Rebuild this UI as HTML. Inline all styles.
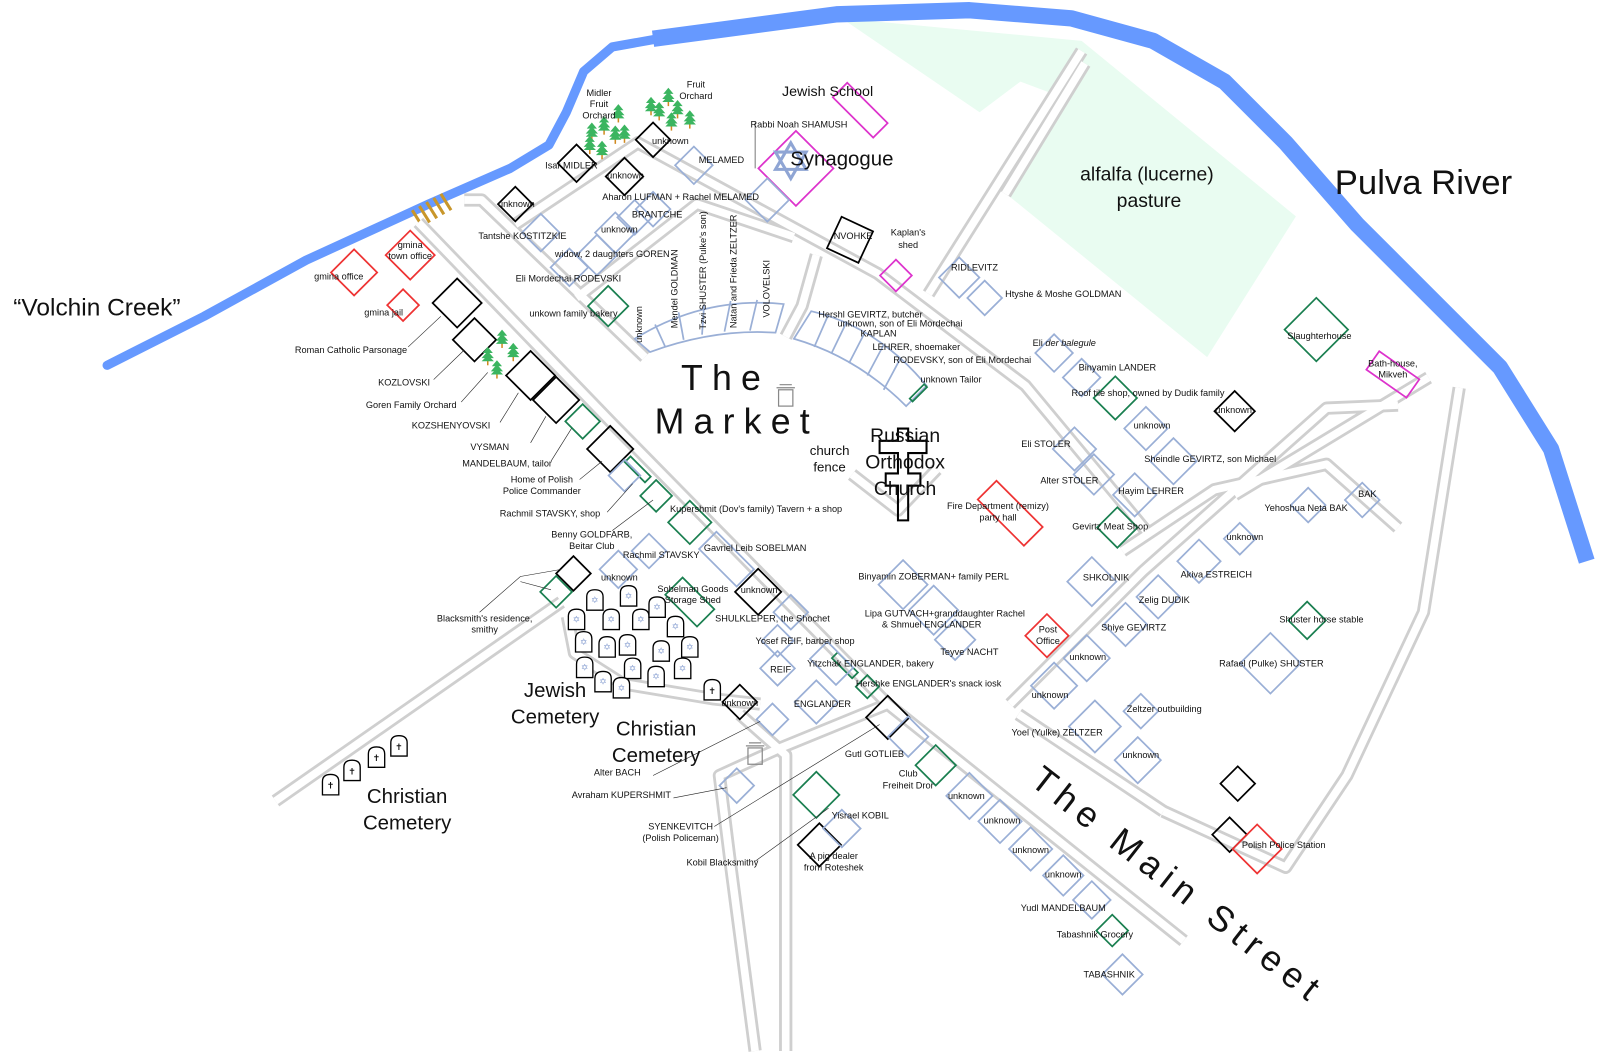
<!DOCTYPE html>
<html><head><meta charset="utf-8"><style>
html,body{margin:0;padding:0;background:#fff}
svg{display:block}
text{font-family:"Liberation Sans",sans-serif;fill:#111}
.s{font-size:9px}
.h rect{fill:none;stroke-width:1.7}
.b{stroke:#9aafd6}.k{stroke:#000}.g{stroke:#1a7f50}.r{stroke:#e33}.m{stroke:#d3c}
.rd{fill:none;stroke-linejoin:round;stroke-linecap:butt}
.rg{stroke:#cfcfcf;stroke-width:13}
.rw{stroke:#fff;stroke-width:7.5}
.ld{stroke:#222;stroke-width:0.6;fill:none}
</style></head><body>
<svg width="1600" height="1052" viewBox="0 0 1568 1031" preserveAspectRatio="none" xmlns="http://www.w3.org/2000/svg">
<defs>
<path id="ts" d="M-8,10 v-13 q0,-7 8,-7 q8,0 8,7 v13 z"/>
<g id="tr"><line x1="0" y1="0" x2="0" y2="8" stroke="#d08a20" stroke-width="1.5"/><polygon points="0,-10 -5,-4 5,-4" fill="#3bb560"/><polygon points="0,-6 -6,1 6,1" fill="#3bb560"/><polygon points="0,-2 -6,4 6,4" fill="#3bb560"/></g>
</defs>
<!-- pasture -->
<polygon points="825,18 1060,40 1270,212 1183,350 980,185 1040,95 1000,80 960,110" fill="#e9fcf1"/>
<!-- river -->
<polyline fill="none" stroke="#6699ff" stroke-width="16" stroke-linejoin="round" points="1555,550 1520,440 1470,360 1400,290 1330,220 1260,140 1200,80 1130,40 1050,18 950,10 820,14 700,30 640,38"/>
<polyline fill="none" stroke="#6699ff" stroke-width="9" stroke-linejoin="round" stroke-linecap="round" points="645,38 600,46 572,70 555,110 538,142 500,165 420,200 300,255 200,310 105,358"/>
<!-- bridge -->
<g stroke="#c8962a" stroke-width="3"><line x1="404" y1="206" x2="414" y2="222"/><line x1="411" y1="202" x2="421" y2="218"/><line x1="418" y1="198" x2="428" y2="214"/><line x1="425" y1="194" x2="435" y2="210"/><line x1="432" y1="190" x2="442" y2="206"/></g>
<!-- roads -->
<g class="rd rg">
<polyline points="410,218 600,415 870,690 1160,922"/>
<polyline points="455,196 472,196 632,350"/>
<polyline points="505,220 625,140 860,268 1005,378 1123,520"/>
<polyline points="565,292 683,200 778,232"/>
<polyline points="800,250 786,300 770,330"/>
<polyline points="910,288 1060,50"/>
<polyline points="985,190 1063,62"/>
<polyline points="270,785 550,590"/>
<polyline points="556,604 563,640 610,670 700,685 745,690"/>
<polyline points="870,690 760,735 705,760 715,840 740,1030"/>
<polyline points="725,700 770,740 770,1030"/>
<polyline points="990,690 1120,560 1300,400 1370,397"/>
<polyline points="998,700 1140,795"/>
<polyline points="1100,540 1190,480 1300,455 1370,517"/>
<polyline points="1140,795 1260,850 1320,760 1395,600 1430,380"/>
<polyline points="1210,485 1400,370"/>
<polyline points="835,465 880,500 918,460"/>
</g>
<g class="rd rw">
<polyline points="410,218 600,415 870,690 1160,922"/>
<polyline points="455,196 472,196 632,350"/>
<polyline points="505,220 625,140 860,268 1005,378 1123,520"/>
<polyline points="565,292 683,200 778,232"/>
<polyline points="800,250 786,300 770,330"/>
<polyline points="910,288 1060,50"/>
<polyline points="985,190 1063,62"/>
<polyline points="270,785 550,590"/>
<polyline points="556,604 563,640 610,670 700,685 745,690"/>
<polyline points="870,690 760,735 705,760 715,840 740,1030"/>
<polyline points="725,700 770,740 770,1030"/>
<polyline points="990,690 1120,560 1300,400 1370,397"/>
<polyline points="998,700 1140,795"/>
<polyline points="1100,540 1190,480 1300,455 1370,517"/>
<polyline points="1140,795 1260,850 1320,760 1395,600 1430,380"/>
<polyline points="1210,485 1400,370"/>
<polyline points="835,465 880,500 918,460"/>
</g>
<!-- market arc houses -->
<g fill="none" stroke="#9aafd6" stroke-width="1.7">
<path d="M622,332 Q690,290 768,298 L760,326 Q700,322 637,345 Z"/>
<line x1="642" y1="318" x2="652" y2="340"/><line x1="665" y1="306" x2="670" y2="333"/><line x1="690" y1="299" x2="688" y2="328"/><line x1="716" y1="295" x2="710" y2="325"/><line x1="742" y1="294" x2="735" y2="324"/>
<path d="M795,305 Q860,320 908,378 L888,398 Q840,350 778,332 Z"/>
<line x1="812" y1="308" x2="798" y2="340"/><line x1="830" y1="315" x2="815" y2="346"/><line x1="848" y1="325" x2="832" y2="356"/><line x1="866" y1="338" x2="850" y2="368"/><line x1="882" y1="352" x2="866" y2="382"/>
</g>
<!-- houses -->
<g class="h">
<rect class="k" x="-13" y="-13" width="26" height="26" transform="translate(565,160) rotate(45)"/>
<rect class="k" x="-12" y="-12" width="24" height="24" transform="translate(640,137) rotate(45)"/>
<rect class="k" x="-13" y="-13" width="26" height="26" transform="translate(612,173) rotate(45)"/>
<rect class="k" x="-12" y="-12" width="24" height="24" transform="translate(505,200) rotate(45)"/>
<rect class="k" x="-17" y="-17" width="34" height="34" transform="translate(448,297) rotate(45)"/>
<rect class="k" x="-15" y="-15" width="30" height="30" transform="translate(465,333) rotate(45)"/>
<rect class="k" x="-17" y="-17" width="34" height="34" transform="translate(520,368) rotate(45)"/>
<rect class="k" x="-16" y="-16" width="32" height="32" transform="translate(545,392) rotate(45)"/>
<rect class="k" x="-16" y="-16" width="32" height="32" transform="translate(598,440) rotate(45)"/>
<rect class="k" x="-12" y="-12" width="24" height="24" transform="translate(562,562) rotate(45)"/>
<rect class="k" x="-16" y="-16" width="32" height="32" transform="translate(743,580) rotate(45)"/>
<rect class="k" x="-17" y="-17" width="34" height="34" transform="translate(833,235) rotate(25)"/>
<rect class="k" x="-14" y="-14" width="28" height="28" transform="translate(1210,403) rotate(45)"/>
<rect class="k" x="-12" y="-12" width="24" height="24" transform="translate(1213,768) rotate(45)"/>
<rect class="k" x="-12" y="-12" width="24" height="24" transform="translate(1205,818) rotate(45)"/>
<rect class="k" x="-12" y="-12" width="24" height="24" transform="translate(725,688) rotate(45)"/>
<rect class="k" x="-15" y="-15" width="30" height="30" transform="translate(870,703) rotate(45)"/>
<rect class="k" x="-15" y="-15" width="30" height="30" transform="translate(803,828) rotate(45)"/>
<rect class="g" x="-14" y="-14" width="28" height="28" transform="translate(596,300) rotate(45)"/>
<rect class="g" x="-12" y="-12" width="24" height="24" transform="translate(571,413) rotate(45)"/>
<rect class="g" x="-14" y="-4" width="28" height="8" transform="translate(625,460) rotate(45)"/>
<rect class="g" x="-11" y="-11" width="22" height="22" transform="translate(643,486) rotate(45)"/>
<rect class="g" x="-15" y="-15" width="30" height="30" transform="translate(676,512) rotate(45)"/>
<rect class="g" x="-11" y="-11" width="22" height="22" transform="translate(545,580) rotate(45)"/>
<rect class="g" x="-22" y="-12" width="44" height="24" transform="translate(676,590) rotate(45)"/>
<rect class="g" x="-14" y="-4" width="28" height="8" transform="translate(828,652) rotate(45)"/>
<rect class="g" x="-8" y="-8" width="16" height="16" transform="translate(850,673) rotate(45)"/>
<rect class="g" x="-16" y="-16" width="32" height="32" transform="translate(800,779) rotate(45)"/>
<rect class="g" x="-14" y="-14" width="28" height="28" transform="translate(917,750) rotate(45)"/>
<rect class="g" x="-22" y="-22" width="44" height="44" transform="translate(1290,323) rotate(45)"/>
<rect class="g" x="-15" y="-15" width="30" height="30" transform="translate(1093,390) rotate(45)"/>
<rect class="g" x="-14" y="-14" width="28" height="28" transform="translate(1095,517) rotate(45)"/>
<rect class="g" x="-13" y="-13" width="26" height="26" transform="translate(1281,608) rotate(45)"/>
<rect class="g" x="-11" y="-11" width="22" height="22" transform="translate(1090,912) rotate(45)"/>
<rect class="g" x="-10" y="-2" width="20" height="4" transform="translate(900,385) rotate(-45)"/>
<rect class="r" x="-16" y="-16" width="32" height="32" transform="translate(347,267) rotate(45)"/>
<rect class="r" x="-17" y="-17" width="34" height="34" transform="translate(402,250) rotate(45)"/>
<rect class="r" x="-11" y="-11" width="22" height="22" transform="translate(395,299) rotate(45)"/>
<rect class="r" x="-32" y="-13" width="64" height="26" transform="translate(990,503) rotate(45)"/>
<rect class="r" x="-15" y="-15" width="30" height="30" transform="translate(1026,623) rotate(45)"/>
<rect class="r" x="-17" y="-17" width="34" height="34" transform="translate(1232,832) rotate(45)"/>
<rect class="m" x="-28" y="-10" width="56" height="20" transform="translate(843,108) rotate(45)"/>
<rect class="m" x="-26" y="-26" width="52" height="52" transform="translate(780,165) rotate(45)"/>
<rect class="m" x="-11" y="-11" width="22" height="22" transform="translate(878,270) rotate(45)"/>
<rect class="m" x="-24" y="-11" width="48" height="22" transform="translate(1365,367) rotate(35)"/>
<rect class="b" x="-13" y="-13" width="26" height="26" transform="translate(530,228) rotate(45)"/>
<rect class="b" x="-13" y="-13" width="26" height="26" transform="translate(680,162) rotate(45)"/>
<rect class="b" x="-15" y="-15" width="30" height="30" transform="translate(752,196) rotate(45)"/>
<rect class="b" x="-12" y="-12" width="24" height="24" transform="translate(640,205) rotate(45)"/>
<rect class="b" x="-12" y="-12" width="24" height="24" transform="translate(622,213) rotate(45)"/>
<rect class="b" x="-14" y="-14" width="28" height="28" transform="translate(603,228) rotate(45)"/>
<rect class="b" x="-14" y="-14" width="28" height="28" transform="translate(585,250) rotate(45)"/>
<rect class="b" x="-13" y="-13" width="26" height="26" transform="translate(558,262) rotate(45)"/>
<rect class="b" x="-14" y="-14" width="28" height="28" transform="translate(940,272) rotate(45)"/>
<rect class="b" x="-12" y="-12" width="24" height="24" transform="translate(965,292) rotate(45)"/>
<rect class="b" x="-13" y="-13" width="26" height="26" transform="translate(1033,346) rotate(45)"/>
<rect class="b" x="-13" y="-13" width="26" height="26" transform="translate(1060,370) rotate(45)"/>
<rect class="b" x="-15" y="-15" width="30" height="30" transform="translate(1123,420) rotate(45)"/>
<rect class="b" x="-16" y="-16" width="32" height="32" transform="translate(1150,452) rotate(45)"/>
<rect class="b" x="-15" y="-15" width="30" height="30" transform="translate(1053,440) rotate(45)"/>
<rect class="b" x="-14" y="-14" width="28" height="28" transform="translate(1072,465) rotate(45)"/>
<rect class="b" x="-15" y="-15" width="30" height="30" transform="translate(1112,485) rotate(45)"/>
<rect class="b" x="-17" y="-17" width="34" height="34" transform="translate(885,573) rotate(45)"/>
<rect class="b" x="-17" y="-17" width="34" height="34" transform="translate(915,598) rotate(45)"/>
<rect class="b" x="-14" y="-14" width="28" height="28" transform="translate(936,627) rotate(45)"/>
<rect class="b" x="-17" y="-17" width="34" height="34" transform="translate(1070,570) rotate(45)"/>
<rect class="b" x="-15" y="-15" width="30" height="30" transform="translate(1135,585) rotate(45)"/>
<rect class="b" x="-15" y="-15" width="30" height="30" transform="translate(1103,612) rotate(45)"/>
<rect class="b" x="-15" y="-15" width="30" height="30" transform="translate(1175,550) rotate(45)"/>
<rect class="b" x="-11" y="-11" width="22" height="22" transform="translate(1215,528) rotate(45)"/>
<rect class="b" x="-12" y="-12" width="24" height="24" transform="translate(1282,495) rotate(45)"/>
<rect class="b" x="-12" y="-12" width="24" height="24" transform="translate(1335,490) rotate(45)"/>
<rect class="b" x="-16" y="-16" width="32" height="32" transform="translate(1065,645) rotate(45)"/>
<rect class="b" x="-16" y="-16" width="32" height="32" transform="translate(1033,672) rotate(45)"/>
<rect class="b" x="-18" y="-18" width="36" height="36" transform="translate(1073,712) rotate(45)"/>
<rect class="b" x="-12" y="-12" width="24" height="24" transform="translate(1118,697) rotate(45)"/>
<rect class="b" x="-16" y="-16" width="32" height="32" transform="translate(1115,745) rotate(45)"/>
<rect class="b" x="-21" y="-21" width="42" height="42" transform="translate(1245,650) rotate(45)"/>
<rect class="b" x="-11" y="-11" width="22" height="22" transform="translate(612,466) rotate(45)"/>
<rect class="b" x="-12" y="-12" width="24" height="24" transform="translate(636,540) rotate(45)"/>
<rect class="b" x="-13" y="-13" width="26" height="26" transform="translate(606,558) rotate(45)"/>
<rect class="b" x="-26" y="-12" width="52" height="24" transform="translate(712,548) rotate(45)"/>
<rect class="b" x="-12" y="-12" width="24" height="24" transform="translate(775,600) rotate(45)"/>
<rect class="b" x="-11" y="-11" width="22" height="22" transform="translate(762,628) rotate(45)"/>
<rect class="b" x="-12" y="-12" width="24" height="24" transform="translate(762,655) rotate(45)"/>
<rect class="b" x="-18" y="-12" width="36" height="24" transform="translate(815,650) rotate(45)"/>
<rect class="b" x="-15" y="-15" width="30" height="30" transform="translate(800,688) rotate(45)"/>
<rect class="b" x="-11" y="-11" width="22" height="22" transform="translate(757,705) rotate(45)"/>
<rect class="b" x="-14" y="-14" width="28" height="28" transform="translate(890,722) rotate(45)"/>
<rect class="b" x="-12" y="-12" width="24" height="24" transform="translate(722,770) rotate(45)"/>
<rect class="b" x="-13" y="-13" width="26" height="26" transform="translate(825,812) rotate(45)"/>
<rect class="b" x="-16" y="-16" width="32" height="32" transform="translate(950,780) rotate(45)"/>
<rect class="b" x="-15" y="-15" width="30" height="30" transform="translate(980,805) rotate(45)"/>
<rect class="b" x="-15" y="-15" width="30" height="30" transform="translate(1010,832) rotate(45)"/>
<rect class="b" x="-14" y="-14" width="28" height="28" transform="translate(1042,858) rotate(45)"/>
<rect class="b" x="-13" y="-13" width="26" height="26" transform="translate(1070,882) rotate(45)"/>
<rect class="b" x="-14" y="-14" width="28" height="28" transform="translate(1100,955) rotate(45)"/>
</g>
<!-- star of David -->
<g fill="none" stroke="#8fa5d4" stroke-width="3"><polygon points="775,140 790,166 760,166"/><polygon points="775,175 760,149 790,149"/></g>
<!-- church cross -->
<path d="M880,420 h10 v12 h18 v12 h-18 v20 h12 v12 h-12 v34 h-10 v-34 h-12 v-12 h12 v-20 h-18 v-12 h18 z" fill="none" stroke="#000" stroke-width="2"/>
<!-- wells -->
<g fill="none" stroke="#888" stroke-width="1.2"><rect x="763" y="382" width="14" height="16"/><path d="M761,380 h18 M764,377 h12"/><rect x="733" y="733" width="14" height="16"/><path d="M731,731 h18 M734,728 h12"/></g>
<!-- tombstones -->
<g fill="#fff" stroke="#000" stroke-width="1.3">
<use href="#ts" x="583" y="588"/><use href="#ts" x="616" y="584"/><use href="#ts" x="565" y="607"/><use href="#ts" x="599" y="607"/><use href="#ts" x="628" y="607"/><use href="#ts" x="644" y="595"/><use href="#ts" x="662" y="614"/><use href="#ts" x="572" y="629"/><use href="#ts" x="595" y="634"/><use href="#ts" x="615" y="632"/><use href="#ts" x="648" y="638"/><use href="#ts" x="676" y="634"/><use href="#ts" x="573" y="654"/><use href="#ts" x="620" y="655"/><use href="#ts" x="643" y="663"/><use href="#ts" x="669" y="655"/><use href="#ts" x="591" y="668"/><use href="#ts" x="609" y="674"/>
<use href="#ts" x="698" y="676"/><use href="#ts" x="324" y="769"/><use href="#ts" x="345" y="755"/><use href="#ts" x="369" y="742"/><use href="#ts" x="391" y="731"/>
</g>
<g font-size="9" text-anchor="middle" style="font-family:'DejaVu Sans',sans-serif">
<g style="fill:#8fa5d4">
<text x="583" y="591" style="fill:#8fa5d4">✡</text><text x="616" y="587" style="fill:#8fa5d4">✡</text><text x="565" y="610" style="fill:#8fa5d4">✡</text><text x="599" y="610" style="fill:#8fa5d4">✡</text><text x="628" y="610" style="fill:#8fa5d4">✡</text><text x="644" y="598" style="fill:#8fa5d4">✡</text><text x="662" y="617" style="fill:#8fa5d4">✡</text><text x="572" y="632" style="fill:#8fa5d4">✡</text><text x="595" y="637" style="fill:#8fa5d4">✡</text><text x="615" y="635" style="fill:#8fa5d4">✡</text><text x="648" y="641" style="fill:#8fa5d4">✡</text><text x="676" y="637" style="fill:#8fa5d4">✡</text><text x="573" y="657" style="fill:#8fa5d4">✡</text><text x="620" y="658" style="fill:#8fa5d4">✡</text><text x="643" y="666" style="fill:#8fa5d4">✡</text><text x="669" y="658" style="fill:#8fa5d4">✡</text><text x="591" y="671" style="fill:#8fa5d4">✡</text><text x="609" y="677" style="fill:#8fa5d4">✡</text>
</g>
<text x="698" y="680">✝</text><text x="324" y="773">✝</text><text x="345" y="759">✝</text><text x="369" y="746">✝</text><text x="391" y="735">✝</text>
</g>
<!-- trees -->
<use href="#tr" x="580" y="130"/><use href="#tr" x="592" y="124"/><use href="#tr" x="603" y="133"/><use href="#tr" x="590" y="148"/><use href="#tr" x="612" y="132"/><use href="#tr" x="606" y="112"/><use href="#tr" x="578" y="143"/>
<use href="#tr" x="638" y="105"/><use href="#tr" x="655" y="96"/><use href="#tr" x="664" y="108"/><use href="#tr" x="658" y="120"/><use href="#tr" x="676" y="118"/><use href="#tr" x="646" y="110"/>
<use href="#tr" x="478" y="350"/><use href="#tr" x="492" y="333"/><use href="#tr" x="503" y="346"/><use href="#tr" x="487" y="363"/>
<!-- leader lines -->
<g class="ld">
<line x1="740" y1="120" x2="740" y2="165"/>
<line x1="400" y1="340" x2="432" y2="310"/><line x1="425" y1="372" x2="455" y2="343"/><line x1="452" y1="394" x2="478" y2="365"/><line x1="490" y1="414" x2="508" y2="385"/><line x1="520" y1="434" x2="535" y2="408"/><line x1="540" y1="452" x2="560" y2="420"/><line x1="568" y1="470" x2="590" y2="452"/><line x1="595" y1="502" x2="620" y2="474"/><line x1="600" y1="520" x2="640" y2="490"/>
<polyline points="470,600 510,565 550,558"/><line x1="510" y1="570" x2="540" y2="578"/>
<line x1="640" y1="760" x2="745" y2="707"/><line x1="660" y1="782" x2="712" y2="772"/><line x1="700" y1="810" x2="862" y2="710"/><line x1="740" y1="844" x2="812" y2="792"/>
</g>
<!-- small labels -->
<g class="s" text-anchor="middle">
<text x="587" y="94">Midler</text><text x="587" y="105">Fruit</text><text x="587" y="116">Orchard</text>
<text x="682" y="86">Fruit</text><text x="682" y="97">Orchard</text>
<text x="783" y="125">Rabbi Noah SHAMUSH</text>
<text x="560" y="165">Isar MIDLER</text>
<text x="657" y="141">unknown</text><text x="613" y="175">unknown</text><text x="506" y="203">unknown</text><text x="607" y="228">unknown</text>
<text x="707" y="160">MELAMED</text>
<text x="667" y="196">Aharon LUFMAN + Rachel MELAMED</text>
<text x="644" y="213">BRANTCHE</text>
<text x="512" y="234">Tantshe KOSTITZKIE</text>
<text x="600" y="252">widow, 2 daughters GOREN</text>
<text x="557" y="276">Eli Mordechai RODEVSKI</text>
<text x="562" y="310">unkown family bakery</text>
<text transform="translate(629,318) rotate(-90)">unknown</text>
<text transform="translate(664,283) rotate(-90)">Mendel GOLDMAN</text>
<text transform="translate(692,265) rotate(-90)">Tzvi SHUSTER (Pulke's son)</text>
<text transform="translate(722,266) rotate(-90)">Natan and Frieda ZELTZER</text>
<text transform="translate(754,283) rotate(-90)">VOLOVELSKI</text>
<text x="836" y="234">NVOHKE</text>
<text x="890" y="231">Kaplan's</text><text x="890" y="243">shed</text>
<text x="955" y="265">RIDLEVITZ</text>
<text x="853" y="311">Hershl GEVIRTZ, butcher</text>
<text x="882" y="320">unknown, son of Eli Mordechai</text>
<text x="861" y="330">KAPLAN</text>
<text x="898" y="343">LEHRER, shoemaker</text>
<text x="943" y="356">RODEVSKY, son of Eli Mordechai</text>
<text x="932" y="375">unknown Tailor</text>
<text x="1095" y="363">Binyamin LANDER</text>
<text x="1125" y="388">Roof tile shop, owned by Dudik family</text>
<text x="1129" y="420">unknown</text><text x="1209" y="405">unknown</text>
<text x="1025" y="438">Eli STOLER</text>
<text x="1048" y="474">Alter STOLER</text>
<text x="1128" y="484">Hayim LEHRER</text>
<text x="1186" y="453">Sheindle GEVIRTZ, son Michael</text>
<text x="978" y="499">Fire Department (remizy)</text><text x="978" y="510">party hall</text>
<text x="1088" y="519">Gevirtz Meat Shop</text>
<text x="1293" y="332">Slaughterhouse</text>
<text x="1365" y="359">Bath-house,</text><text x="1365" y="370">Mikveh</text>
<text x="1280" y="501">Yehoshua Neta BAK</text><text x="1340" y="487">BAK</text>
<text x="1220" y="529">unknown</text>
<text x="1192" y="566">Akiva ESTREICH</text>
<text x="1084" y="569">SHKOLNIK</text>
<text x="1141" y="591">Zelig DUDIK</text>
<text x="1111" y="618">Shiye GEVIRTZ</text>
<text x="1295" y="610">Shuster horse stable</text>
<text x="1246" y="653">Rafael (Pulke) SHUSTER</text>
<text x="1066" y="647">unknown</text><text x="1029" y="684">unknown</text>
<text x="1141" y="698">Zeltzer outbuilding</text>
<text x="1036" y="721">Yoel (Yulke) ZELTZER</text>
<text x="1118" y="743">unknown</text>
<text x="915" y="568">Binyamin ZOBERMAN+ family PERL</text>
<text x="926" y="604">Lipa GUTVACH+granddaughter Rachel</text><text x="913" y="615">&amp; Shmuel ENGLANDER</text>
<text x="950" y="642">Teyve NACHT</text>
<text x="1027" y="620">Post</text><text x="1027" y="631">Office</text>
<text x="741" y="502">Kupershmit (Dov's family) Tavern + a shop</text>
<text x="740" y="540">Gavriel Leib SOBELMAN</text>
<text x="648" y="547">Rachmil STAVSKY</text>
<text x="607" y="569">unknown</text><text x="744" y="581">unknown</text>
<text x="679" y="580">Sobelman Goods</text><text x="679" y="591">Storage Shed</text>
<text x="757" y="609">SHULKLEPER, the Shochet</text>
<text x="789" y="631">Yosef REIF, barber shop</text>
<text x="765" y="659">REIF</text>
<text x="853" y="653">Yitzchak ENGLANDER, bakery</text>
<text x="910" y="673">Hershke ENGLANDER's snack iosk</text>
<text x="806" y="693">ENGLANDER</text>
<text x="725" y="692">unknown</text>
<text x="857" y="742">Gutl GOTLIEB</text>
<text x="890" y="761">Club</text><text x="890" y="773">Freiheit Dror</text>
<text x="843" y="802">Yisrael KOBIL</text>
<text x="817" y="842">A pig dealer</text><text x="817" y="853">from Roteshek</text>
<text x="708" y="848">Kobil Blacksmithy</text>
<text x="667" y="813">SYENKEVITCH</text><text x="667" y="824">(Polish Policeman)</text>
<text x="609" y="782">Avraham KUPERSHMIT</text>
<text x="605" y="760">Alter BACH</text>
<text x="947" y="783">unknown</text><text x="982" y="807">unknown</text><text x="1010" y="836">unknown</text><text x="1042" y="860">unknown</text>
<text x="1042" y="893">Yudl MANDELBAUM</text>
<text x="1073" y="919">Tabashnik Grocery</text>
<text x="1087" y="958">TABASHNIK</text>
<text x="1258" y="831">Polish Police Station</text>
<text x="402" y="243">gmina</text><text x="402" y="254">town office</text>
<text x="332" y="274">gmina office</text>
<text x="376" y="309">gmina jail</text>
<text x="344" y="346">Roman Catholic Parsonage</text>
<text x="396" y="378">KOZLOVSKI</text>
<text x="403" y="400">Goren Family Orchard</text>
<text x="442" y="420">KOZSHENYOVSKI</text>
<text x="480" y="441">VYSMAN</text>
<text x="497" y="457">MANDELBAUM, tailor</text>
<text x="531" y="473">Home of Polish</text><text x="531" y="484">Police Commander</text>
<text x="539" y="506">Rachmil STAVSKY, shop</text>
<text x="580" y="527">Benny GOLDFARB,</text><text x="580" y="538">Beitar Club</text>
<text x="475" y="609">Blacksmith's residence,</text><text x="475" y="620">smithy</text>
</g>
<text class="s" x="1012" y="339">Eli <tspan font-style="italic">der balegule</tspan></text>
<text class="s" x="985" y="291">Htyshe &amp; Moshe GOLDMAN</text>
<!-- big labels -->
<text x="811" y="94" font-size="14" text-anchor="middle">Jewish School</text>
<text x="825" y="162" font-size="20" text-anchor="middle">Synagogue</text>
<text x="95" y="309" font-size="24" text-anchor="middle">“Volchin Creek”</text>
<text x="1395" y="190" font-size="34" text-anchor="middle">Pulva River</text>
<text x="1124" y="177" font-size="19" text-anchor="middle">alfalfa (lucerne)</text><text x="1126" y="203" font-size="19" text-anchor="middle">pasture</text>
<text x="711" y="382" font-size="35" text-anchor="middle" letter-spacing="9">The</text>
<text x="722" y="425" font-size="35" text-anchor="middle" letter-spacing="9">Market</text>
<text x="813" y="446" font-size="13" text-anchor="middle">church</text><text x="813" y="462" font-size="13" text-anchor="middle">fence</text>
<text x="887" y="433" font-size="19" text-anchor="middle">Russian</text><text x="887" y="459" font-size="19" text-anchor="middle">Orthodox</text><text x="887" y="485" font-size="19" text-anchor="middle">Church</text>
<text x="544" y="683" font-size="20" text-anchor="middle">Jewish</text><text x="544" y="709" font-size="20" text-anchor="middle">Cemetery</text>
<text x="643" y="721" font-size="20" text-anchor="middle">Christian</text><text x="643" y="747" font-size="20" text-anchor="middle">Cemetery</text>
<text x="399" y="787" font-size="20" text-anchor="middle">Christian</text><text x="399" y="813" font-size="20" text-anchor="middle">Cemetery</text>
<text transform="translate(1008,768) rotate(38)" font-size="35" letter-spacing="7">The Main Street</text>
</svg>
</body></html>
